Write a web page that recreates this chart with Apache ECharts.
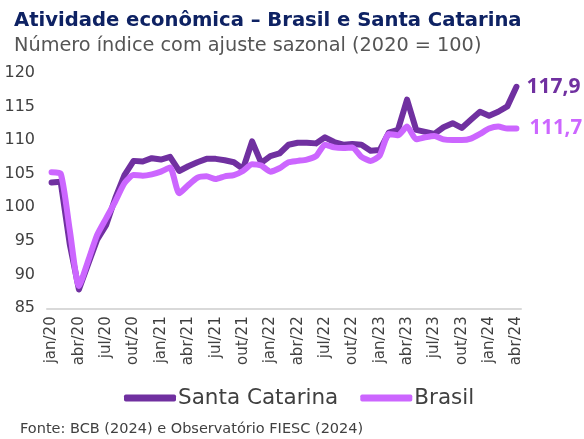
<!DOCTYPE html>
<html><head><meta charset="utf-8">
<script src="https://cdn.jsdelivr.net/npm/echarts@6/dist/echarts.min.js"></script>
<style>html,body{margin:0;padding:0;background:#fff}#c{width:584px;height:439px}</style>
</head><body><div id="c"></div>
<script>
const categories = [
 'jan/20','fev/20','mar/20','abr/20','mai/20','jun/20','jul/20','ago/20','set/20','out/20','nov/20','dez/20',
 'jan/21','fev/21','mar/21','abr/21','mai/21','jun/21','jul/21','ago/21','set/21','out/21','nov/21','dez/21',
 'jan/22','fev/22','mar/22','abr/22','mai/22','jun/22','jul/22','ago/22','set/22','out/22','nov/22','dez/22',
 'jan/23','fev/23','mar/23','abr/23','mai/23','jun/23','jul/23','ago/23','set/23','out/23','nov/23','dez/23',
 'jan/24','fev/24','mar/24','abr/24'];
const santaCatarina = [
 103.7,103.8,94.5,87.8,91.5,95.2,97.4,101.4,104.8,106.9,106.8,107.3,
 107.1,107.5,105.4,106.1,106.7,107.2,107.2,107.0,106.7,105.7,109.8,106.6,
 107.6,108.0,109.3,109.6,109.6,109.5,110.4,109.7,109.3,109.4,109.3,108.4,
 108.5,111.1,111.5,116.0,111.5,111.2,110.9,111.9,112.5,111.8,113.0,114.2,
 113.6,114.2,115.0,117.9];
const brasil = [
 105.2,105.0,96.6,88.3,92.0,95.9,98.4,100.9,103.6,104.8,104.7,104.9,
 105.3,105.9,102.1,103.3,104.4,104.6,104.2,104.6,104.8,105.4,106.4,106.2,
 105.3,105.8,106.7,106.9,107.1,107.6,109.3,108.9,108.8,108.9,107.5,106.9,
 107.7,110.9,110.7,112.0,110.1,110.4,110.6,110.1,110.0,110.0,110.2,110.9,
 111.7,112.0,111.7,111.7];
const titleText = 'Atividade econômica – Brasil e Santa Catarina';
const subtitleText = 'Número índice com ajuste sazonal (2020 = 100)';
const sourceText = 'Fonte: BCB (2024) e Observatório FIESC (2024)';

const FONT = 'DejaVu Sans';
const chart = echarts.init(document.getElementById('c'), null, {renderer:'canvas'});
const fmt = p => p.value.toFixed(1).replace('.', ',');
chart.setOption({
  animation: false,
  textStyle: {fontFamily: FONT},
  title: [
    {text: titleText, left: 9, top: 6, textStyle: {fontFamily: FONT, fontWeight: 'bold', fontSize: 19.6, color: '#0e2263'}},
    {text: subtitleText, left: 9, top: 31, textStyle: {fontFamily: FONT, fontWeight: 'normal', fontSize: 19.3, color: '#555555'}},
    {text: sourceText, left: 15, top: 417, textStyle: {fontFamily: FONT, fontWeight: 'normal', fontSize: 14.5, color: '#404040'}}
  ],
  legend: {
    top: 382, left: 119, itemWidth: 52, itemHeight: 7, itemGap: 22, icon: 'roundRect',
    textStyle: {fontFamily: FONT, fontSize: 21.5, color: '#404040', padding: [0,0,0,-3]},
    data: ['Santa Catarina', 'Brasil']
  },
  grid: {left: 47, right: 63, top: 72.7, bottom: 130.7},
  xAxis: {
    type: 'category', data: categories, boundaryGap: true,
    axisLine: {lineStyle: {color: '#d9d9d9', width: 2}},
    axisTick: {interval: 2, length: 6, lineStyle: {color: '#d9d9d9', width: 2}},
    axisLabel: {interval: 2, rotate: 90, fontSize: 15, color: '#404040', margin: 8, fontFamily: FONT}
  },
  yAxis: {
    type: 'value', min: 85, max: 120, interval: 5,
    axisLine: {show: false}, axisTick: {show: false}, splitLine: {show: false},
    axisLabel: {fontSize: 16, color: '#404040', margin: 12, fontFamily: FONT}
  },
  series: [
    {name: 'Santa Catarina', type: 'line', data: santaCatarina, symbol: 'none',
     itemStyle: {color: '#7030a0'}, lineStyle: {width: 6, color: '#7030a0', cap: 'round', join: 'round'},
     endLabel: {show: true, formatter: fmt, distance: 10, fontSize: 21, fontWeight: 'bold', color: '#7030a0', fontFamily: 'Open Sans'}},
    {name: 'Brasil', type: 'line', data: brasil, symbol: 'none', smooth: 0.2,
     itemStyle: {color: '#cc66ff'}, lineStyle: {width: 6, color: '#cc66ff', cap: 'round', join: 'round'},
     endLabel: {show: true, formatter: fmt, distance: 13, fontSize: 20.5, fontWeight: 'bold', color: '#cc66ff', fontFamily: 'Open Sans'}}
  ]
});
</script></body></html>
